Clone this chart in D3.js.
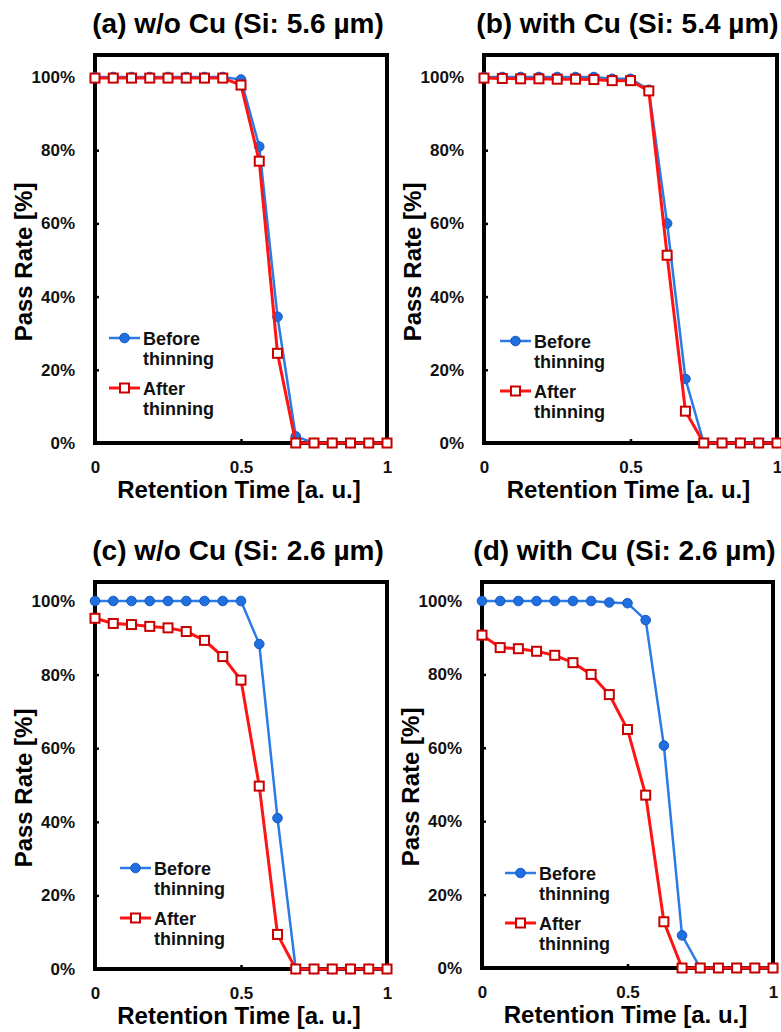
<!DOCTYPE html>
<html>
<head>
<meta charset="utf-8">
<script src="https://cdn.jsdelivr.net/npm/d3@7"></script>
<style>
body { margin: 0; background: #fff; }
svg { display: block; font-family: "Liberation Sans", Arial, sans-serif; font-weight: bold; }
</style>
</head>
<body>
<svg id="chart" width="781" height="1032"></svg>
<script>
// Retention time steps (a. u.), shared by all four panels
const retentionTimes = [0, 0.0625, 0.125, 0.1875, 0.25, 0.3125, 0.375, 0.4375, 0.5,
    0.5625, 0.625, 0.6875, 0.75, 0.8125, 0.875, 0.9375, 1];

const panelTitles = ["(a) w/o Cu (Si: 5.6 µm)", "(b) with Cu (Si: 5.4 µm)",
    "(c) w/o Cu (Si: 2.6 µm)", "(d) with Cu (Si: 2.6 µm)"];

// Pass rate [%] before thinning, one array per panel
const beforeA = [100, 100, 100, 100, 100, 100, 100, 100, 99.3, 81, 34.5, 1.8, 0, 0, 0, 0, 0];
const beforeB = [100, 100, 100, 100, 100, 100, 100, 99.5, 99.5, 96.5, 60, 17.5, 0, 0, 0, 0, 0];
const beforeC = [100, 100, 100, 100, 100, 100, 100, 100, 100, 88.3, 41, 0, 0, 0, 0, 0, 0];
const beforeD = [100, 100, 100, 100, 100, 100, 100, 99.6, 99.4, 94.8, 60.6, 8.9, 0, 0, 0, 0, 0];

// Pass rate [%] after thinning
const afterA = [99.7, 99.7, 99.7, 99.7, 99.7, 99.7, 99.7, 99.7, 97.8, 77, 24.5, 0, 0, 0, 0, 0, 0];
const afterB = [99.7, 99.6, 99.5, 99.5, 99.4, 99.4, 99.3, 99, 99, 96.2, 51.3, 8.7, 0, 0, 0, 0, 0];
const afterC = [95.3, 93.9, 93.6, 93.1, 92.7, 91.7, 89.3, 84.9, 78.5, 49.7, 9.4, 0, 0, 0, 0, 0, 0];
const afterD = [90.7, 87.3, 87, 86.3, 85.2, 83.2, 80, 74.5, 65, 47.1, 12.6, 0, 0, 0, 0, 0, 0];

const xTicks = [0, 0.5, 1];
const yTicks = [0, 20, 40, 60, 80, 100];
const legendLines = [["Before", "thinning"], ["After", "thinning"]];
const xAxisTitle = "Retention Time [a. u.]";
const yAxisTitle = "Pass Rate [%]";

const blue = "#2a7be6";
const red = "#ff1414";

// pixel placement of each panel
const layouts = [
    {left: 95, right: 387, top: 55, y0: 443, y100: 77, legX: 109, legY: 338},
    {left: 484, right: 777, top: 55, y0: 443, y100: 77, legX: 500, legY: 341},
    {left: 95, right: 387, top: 582, y0: 969, y100: 601, legX: 120, legY: 868},
    {left: 482, right: 773, top: 582, y0: 968, y100: 601, legX: 505, legY: 873}
];

const svg = d3.select("#chart");

function drawPanel(index, before, after) {
    var lay = layouts[index];
    var g = svg.append("g");

    let x = d3.scaleLinear().domain([0, 1]).range([lay.left, lay.right]);
    let y = d3.scaleLinear().domain([0, 100]).range([lay.y0, lay.y100]);

    // title
    g.append("text")
        .attr("x", (lay.left + lay.right) / 2 - 3)
        .attr("y", lay.top - 22)
        .attr("text-anchor", "middle")
        .style("font-size", "28px")
        .text(panelTitles[index]);

    // axes with inside ticks
    var yAxis = g.append("g")
        .attr("transform", "translate(" + lay.left + ",0)")
        .call(d3.axisLeft(y).tickValues(yTicks).tickSizeInner(-4).tickSizeOuter(0)
            .tickPadding(20).tickFormat(d => d + "%"));
    var xAxis = g.append("g")
        .attr("transform", "translate(0," + lay.y0 + ")")
        .call(d3.axisBottom(x).tickValues(xTicks).tickSizeInner(-4).tickSizeOuter(0)
            .tickPadding(18).tickFormat(d => d3.format("")(d)));
    [xAxis, yAxis].forEach(ax => {
        ax.select(".domain").remove();
        ax.attr("font-family", null).attr("font-size", null);
        ax.selectAll("line").attr("stroke", "#000").attr("stroke-width", 2.5);
        ax.selectAll("text").attr("fill", "#111").style("font-size", "17px");
    });

    // plot frame
    g.append("rect")
        .attr("x", lay.left)
        .attr("y", lay.top)
        .attr("width", lay.right - lay.left)
        .attr("height", lay.y0 - lay.top)
        .attr("fill", "none")
        .attr("stroke", "#000")
        .attr("stroke-width", 4);

    // axis titles
    g.append("text")
        .attr("x", (lay.left + lay.right) / 2 - 2)
        .attr("y", lay.y0 + 55)
        .attr("text-anchor", "middle")
        .style("font-size", "24px")
        .text(xAxisTitle);
    g.append("text")
        .attr("transform", "translate(" + (lay.left - 63) + "," + (lay.y0 - 181) + ") rotate(-90)")
        .attr("text-anchor", "middle")
        .style("font-size", "24px")
        .text(yAxisTitle);

    let line = d3.line().x(d => x(d.t)).y(d => y(d.v));
    var beforePts = retentionTimes.map((t, i) => ({t: t, v: before[i]}));
    var afterPts = retentionTimes.map((t, i) => ({t: t, v: after[i]}));

    // before thinning: blue line with filled circles
    g.append("path")
        .datum(beforePts)
        .attr("d", line)
        .attr("fill", "none")
        .attr("stroke", blue)
        .attr("stroke-width", 2.5);
    g.selectAll("circle.before")
        .data(beforePts)
        .enter().append("circle")
        .attr("class", "before")
        .attr("cx", d => x(d.t))
        .attr("cy", d => y(d.v))
        .attr("r", 4.8)
        .attr("fill", "#1f6fe0")
        .attr("stroke", "#1858c0")
        .attr("stroke-width", 1);

    // after thinning: red line with open squares
    g.append("path")
        .datum(afterPts)
        .attr("d", line)
        .attr("fill", "none")
        .attr("stroke", red)
        .attr("stroke-width", 3);
    g.selectAll("rect.after")
        .data(afterPts)
        .enter().append("rect")
        .attr("class", "after")
        .attr("x", d => x(d.t) - 4.5)
        .attr("y", d => y(d.v) - 4.5)
        .attr("width", 9)
        .attr("height", 9)
        .attr("fill", "#fff")
        .attr("stroke", "#c80000")
        .attr("stroke-width", 2);

    addLegend(g, lay);
}

function addLegend(g, lay) {
    var x1 = lay.legX, x2 = lay.legX + 31, mid = lay.legX + 15.5;
    legendLines.forEach((lines, i) => {
        var ly = lay.legY + i * 50;
        g.append("line")
            .attr("x1", x1).attr("x2", x2)
            .attr("y1", ly).attr("y2", ly)
            .attr("stroke", i === 0 ? blue : red)
            .attr("stroke-width", i === 0 ? 2.5 : 3);
        if (i === 0) {
            g.append("circle")
                .attr("cx", mid).attr("cy", ly).attr("r", 4.8)
                .attr("fill", "#1f6fe0").attr("stroke", "#1858c0");
        } else {
            g.append("rect")
                .attr("x", mid - 4.5).attr("y", ly - 4.5)
                .attr("width", 9).attr("height", 9)
                .attr("fill", "#fff").attr("stroke", "#c80000").attr("stroke-width", 2);
        }
        lines.forEach((txt, j) => {
            g.append("text")
                .attr("x", x2 + 3)
                .attr("y", ly + 7 + j * 20)
                .attr("fill", "#111")
                .style("font-size", "18px")
                .text(txt);
        });
    });
}

drawPanel(0, beforeA, afterA);
drawPanel(1, beforeB, afterB);
drawPanel(2, beforeC, afterC);
drawPanel(3, beforeD, afterD);
</script>
</body>
</html>
